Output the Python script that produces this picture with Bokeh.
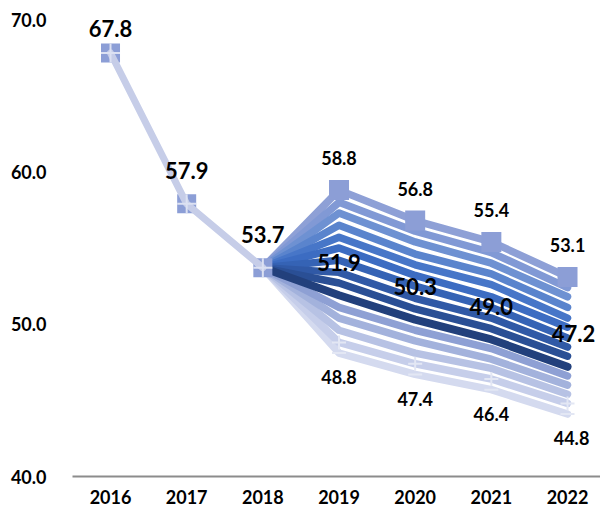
from bokeh.plotting import figure
from bokeh.embed import file_html
from bokeh.resources import INLINE
from bokeh.models import FixedTicker, Range1d, NumeralTickFormatter
from bokeh.core.properties import value

# ---- data ----
years = [2016, 2017, 2018, 2019, 2020, 2021, 2022]
year_labels = ["2016", "2017", "2018", "2019", "2020", "2021", "2022"]
y_ticks = [40, 50, 60, 70]

hist_years = [2016, 2017, 2018]
hist_values = [67.8, 57.9, 53.7]

fan_years = [2018, 2019, 2020, 2021, 2022]
central = [53.7, 51.9, 50.3, 49.0, 47.2]
upper_bound = [53.7, 58.8, 56.8, 55.4, 53.1]
lower_bound = [53.7, 48.8, 47.4, 46.4, 44.8]

# fan lines between central and upper bound (nearest central first)
upper_lines = [
    [53.7, 52.7, 51.0, 49.7, 47.9],
    [53.7, 53.4, 51.7, 50.4, 48.5],
    [53.7, 54.2, 52.5, 51.1, 49.1],
    [53.7, 55.0, 53.2, 51.8, 49.8],
    [53.7, 55.7, 53.9, 52.6, 50.4],
    [53.7, 56.5, 54.6, 53.3, 51.1],
    [53.7, 57.3, 55.4, 54.0, 51.8],
    [53.7, 58.0, 56.1, 54.7, 52.4],
]
# fan lines between central and lower bound (nearest central first)
lower_lines = [
    [53.7, 51.1, 49.6, 48.4, 46.6],
    [53.7, 50.4, 48.9, 47.7, 46.0],
    [53.7, 49.6, 48.1, 47.1, 45.4],
]
lower_extra = [53.7, 48.1, 46.7, 45.7, 44.1]

# ---- styles ----
FONT = value("Lato")
upper_colors = ["#2A4F95", "#3059A6", "#3563B5", "#3C6CC2", "#4776C8",
                "#5A84CD", "#6E91D2", "#8199D5"]
upper_bound_color = "#8EA0D6"
lower_colors = ["#8EA0D4", "#A3B2DC", "#B7C2E4"]
lower_bound_color = "#C6CEEA"
lower_extra_color = "#D4DAEF"
central_color = "#22407C"
hist_color = "#C6CDE8"
marker_color = "#8C9ED6"

p = figure(width=600, height=512, output_backend="svg", toolbar_location=None,
           x_range=Range1d(2015.501, 2022.433), y_range=Range1d(40, 70),
           min_border_left=72, min_border_right=0, min_border_top=19,
           min_border_bottom=36)
p.outline_line_color = None
p.xgrid.visible = False
p.ygrid.visible = False
p.background_fill_color = "white"

LW = 7.5
# upper bound first (lightest), then inward
p.line(fan_years, upper_bound, line_color=upper_bound_color, line_width=LW, line_cap="round", line_join="round")
for ln, c in reversed(list(zip(upper_lines, upper_colors))):
    p.line(fan_years, ln, line_color=c, line_width=LW, line_cap="round", line_join="round")
p.line(fan_years, lower_extra, line_color=lower_extra_color, line_width=LW, line_cap="round", line_join="round")
p.line(fan_years, lower_bound, line_color=lower_bound_color, line_width=LW, line_cap="round", line_join="round")
for ln, c in reversed(list(zip(lower_lines, lower_colors))):
    p.line(fan_years, ln, line_color=c, line_width=LW, line_cap="round", line_join="round")
p.line(fan_years, central, line_color=central_color, line_width=8, line_cap="round", line_join="round")

# markers on upper bound
p.scatter(fan_years[1:], upper_bound[1:], marker="square", size=20, fill_color=marker_color,
          line_color=None)
# light cross markers on lower bound
p.scatter(fan_years[1:], lower_bound[1:], marker="cross", size=14, line_color="#E3E7F4",
          line_width=2)
p.scatter(fan_years[1:], lower_extra[1:], marker="dash", size=14, line_color="#E3E7F4",
          line_width=2)

# history
p.scatter(hist_years, hist_values, marker="square", size=19, fill_color=marker_color, line_color=None)
p.line(hist_years, hist_values, line_color=hist_color, line_width=7, line_cap="round")
p.scatter(hist_years, hist_values, marker="cross", size=19, line_color="#DCE1F2", line_width=2)

# ---- data labels ----
def fmt(v):
    return f"{v:.1f}"

big = dict(text_font=FONT, text_font_style="bold", text_font_size="22px",
           text_color="black", text_align="center", text_baseline="middle")
small = dict(text_font=FONT, text_font_style="bold", text_font_size="18px",
             text_color="black", text_align="center", text_baseline="middle")

hist_off = [-25, -33, -33]
p.text(x=hist_years, y=hist_values, text=[fmt(v) for v in hist_values],
       y_offset=hist_off, **big)
p.text(x=fan_years[1:], y=central[1:], text=[fmt(v) for v in central[1:]],
       y_offset=-33, x_offset=[0, 0, 0, 6], **big)
p.text(x=fan_years[1:], y=upper_bound[1:], text=[fmt(v) for v in upper_bound[1:]],
       y_offset=-32, **small)
p.text(x=fan_years[1:], y=lower_bound[1:], text=[fmt(v) for v in lower_bound[1:]],
       y_offset=35, x_offset=[0, 0, 0, 4], **small)

# ---- axes ----
p.xaxis.ticker = FixedTicker(ticks=years)
p.xaxis.major_label_overrides = {y: s for y, s in zip(years, year_labels)}
p.xaxis.axis_line_color = "#8C8C8C"
p.xaxis.axis_line_width = 2
p.xaxis.major_tick_line_color = None
p.xaxis.minor_tick_line_color = None
p.xaxis.major_label_standoff = 7
p.xaxis.major_label_text_font = "Lato"
p.xaxis.major_label_text_font_style = "bold"
p.xaxis.major_label_text_font_size = "18px"
p.xaxis.major_label_text_color = "black"

p.yaxis.ticker = FixedTicker(ticks=y_ticks)
p.yaxis.formatter = NumeralTickFormatter(format="0.0")
p.yaxis.axis_line_color = None
p.yaxis.major_tick_line_color = None
p.yaxis.minor_tick_line_color = None
p.yaxis.major_label_standoff = 20
p.yaxis.major_label_text_font = "Lato"
p.yaxis.major_label_text_font_style = "bold"
p.yaxis.major_label_text_font_size = "18px"
p.yaxis.major_label_text_color = "black"

open("out.html", "w").write(file_html(p, INLINE))
